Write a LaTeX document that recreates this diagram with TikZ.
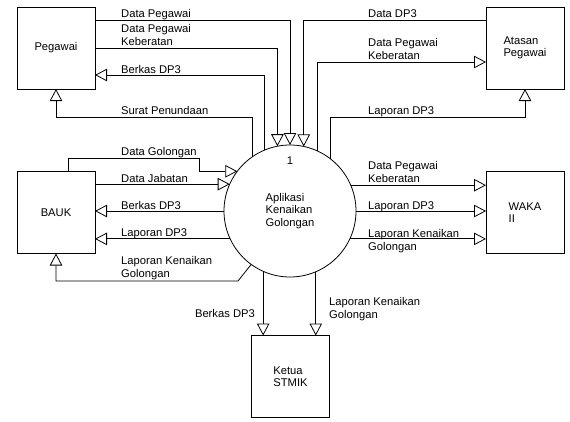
\documentclass[tikz,border=0pt]{standalone}
\usepackage{fontspec}
\setmainfont{Liberation Sans}
\usetikzlibrary{arrows.meta}
% multi-line flow label whose reference point is the baseline of its last line
\newcommand{\flowtext}[1]{\begin{tabular}[b]{@{}l@{}}#1\end{tabular}}
\begin{document}
\begin{tikzpicture}[x=1pt,y=-1pt,
  every node/.style={font=\fontsize{11.2}{12.5}\selectfont},
  entity/.style={draw, line width=0.8pt, minimum width=78pt, minimum height=82pt,
                 align=left, inner sep=0pt, outer sep=0pt},
  process/.style={draw, circle, line width=0.8pt, minimum size=132pt,
                  align=left, inner sep=0pt, outer sep=0pt},
  flow/.style={draw, line width=0.8pt, line join=miter,
               -{Triangle[open, length=12pt, width=12.5pt]}},
  lbl/.style={inner sep=0pt, anchor=base west},
  lble/.style={inner sep=0pt, anchor=base east}]

\useasboundingbox (0,0) rectangle (570,421);

% external entities
\node[entity] (peg)    at (56,48)      {Pegawai};
\node[entity] (atasan) at (525,48)     {Atasan\\Pegawai};
\node[entity] (bauk)   at (56,212.5)   {BAUK};
\node[entity] (waka)   at (525,212.5)  {WAKA\\II};
\node[entity] (ketua)  at (290.5,376.5){Ketua\\STMIK};

% the process
\node[process] (c) at (290,211) {Aplikasi\\Kenaikan\\Golongan};
\node[inner sep=0pt, anchor=base] (num) at (290,164) {1};

% flows between Pegawai and the process
\draw[flow] (peg.east |- 0,20) -| (c.north);
\draw[flow] (peg.east |- 0,48) -| (c.101.4);
\draw[flow] (c.113.2) -- (c.113.2 |- 0,75) -- (peg.east |- 0,75);
\draw[flow] (c.125.2) -- (c.125.2 |- 0,117) -| (peg.south);

% flows between Atasan Pegawai and the process
\draw[flow] (atasan.west |- 0,20) -| (c.78.6);
\draw[flow] (c.65.85) |- (atasan.west |- 0,62);
\draw[flow] (c.52.7) |- (atasan.south |- 0,117) -- (atasan.south);

% flows between BAUK and the process
\draw[flow] (bauk.north -| 68,0) |- (199,158) |- (c.143.8);
\draw[flow] (bauk.east |- c.156.8) -- (c.156.8);
\draw[flow] (c.west) -- (bauk.east |- c.west);
\draw[flow] (c.205.1) -- (bauk.east |- c.205.1);
\draw[flow] (c.234.5) -- (238,281) -| (bauk.south);

% flows to WAKA II
\draw[flow] (c.23.2) -- (waka.west |- c.23.2);
\draw[flow] (c.east) -- (waka.west |- c.east);
\draw[flow] (c.-25.1) -- (waka.west |- c.-25.1);

% flows to Ketua STMIK
\draw[flow] (c.246.8) -- (ketua.north -| c.246.8);
\draw[flow] (c.293.2) -- (ketua.north -| c.293.2);

% flow labels
\node[lbl] (l1)  at (121,17.5) {Data Pegawai};
\node[lbl] (l2)  at (121,45)   {\flowtext{Data Pegawai\\Keberatan}};
\node[lbl] (l3)  at (121,73)   {Berkas DP3};
\node[lbl] (l4)  at (121,114)  {Surat Penundaan};
\node[lbl] (l5)  at (368,17.5) {Data DP3};
\node[lbl] (l6)  at (368,59)   {\flowtext{Data Pegawai\\Keberatan}};
\node[lbl] (l7)  at (368,114)  {Laporan DP3};
\node[lbl] (l8)  at (121,155)  {Data Golongan};
\node[lbl] (l9)  at (121,182)  {Data Jabatan};
\node[lbl] (l10) at (121,209)  {Berkas DP3};
\node[lbl] (l11) at (121,236)  {Laporan DP3};
\node[lbl] (l12) at (121,277)  {\flowtext{Laporan Kenaikan\\Golongan}};
\node[lbl] (l13) at (368,182)  {\flowtext{Data Pegawai\\Keberatan}};
\node[lbl] (l14) at (368,209)  {Laporan DP3};
\node[lbl] (l15) at (368,250)  {\flowtext{Laporan Kenaikan\\Golongan}};
\node[lble] (l16) at (255,317) {Berkas DP3};
\node[lbl] (l17) at (329,318)  {\flowtext{Laporan Kenaikan\\Golongan}};
\end{tikzpicture}
\end{document}
